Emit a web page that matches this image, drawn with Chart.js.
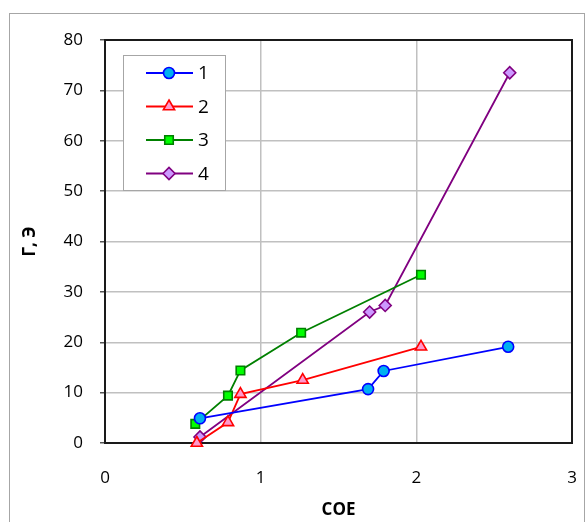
<!DOCTYPE html>
<html>
<head>
<meta charset="utf-8">
<script src="https://cdn.jsdelivr.net/npm/chart.js@4/dist/chart.umd.min.js"></script>
<style>
  html, body { margin: 0; padding: 0; background: #fff; }
  #wrap { width: 586px; height: 522px; }
</style>
</head>
<body>
<div id="wrap"><canvas id="c" width="586" height="522"></canvas></div>
<script>
// значения (COE -> Г, Э)
var labels = ['1', '2', '3', '4'];
var x1 = [0.61, 1.69, 1.79, 2.59];
var y1 = [4.9, 10.7, 14.3, 19.1];
var x2 = [0.59, 0.79, 0.87, 1.27, 2.03];
var y2 = [0.0, 4.1, 9.7, 12.5, 19.1];
var x3 = [0.58, 0.79, 0.87, 1.26, 2.03];
var y3 = [3.8, 9.4, 14.4, 21.9, 33.4];
var x4 = [0.61, 1.70, 1.80, 2.60];
var y4 = [1.2, 26.0, 27.3, 73.5];
var xTicks = [0, 1, 2, 3];
var yTicks = [0, 10, 20, 30, 40, 50, 60, 70, 80];

var FONT = '"Open Sans", "DejaVu Sans", sans-serif';

function pts(xs, ys) {
  return xs.map(function(x, i) { return {x: x, y: ys[i]}; });
}

function ds(label, xs, ys, line, fill, style, r) {
  return {
    label: label,
    data: pts(xs, ys),
    showLine: true,
    borderColor: line,
    borderWidth: 1.8,
    pointStyle: style,
    pointRadius: r,
    pointBackgroundColor: fill,
    pointBorderColor: line,
    pointBorderWidth: 1.6,
    clip: false
  };
}

// рамка вокруг, рамка области построения, легенда внутри
var framePlugin = {
  id: 'frame',
  beforeDraw: function(chart) {
    var c = chart.ctx;
    c.save();
    c.fillStyle = '#fff';
    c.fillRect(0, 0, chart.width, chart.height);
    c.strokeStyle = '#a6a6a6';
    c.lineWidth = 1;
    c.strokeRect(9.5, 13.5, 575, 530);
    c.restore();
  },
  beforeDatasetsDraw: function(chart) {
    var a = chart.chartArea, c = chart.ctx;
    c.save();
    c.strokeStyle = '#1a1a1a';
    c.lineWidth = 2;
    c.strokeRect(a.left, a.top, a.right - a.left, a.bottom - a.top);
    c.restore();
  },
  afterDraw: function(chart) {
    var a = chart.chartArea, c = chart.ctx;
    var bx = a.left + 18, by = a.top + 15, bw = 102, bh = 135;
    c.save();
    c.fillStyle = '#fff';
    c.fillRect(bx, by, bw, bh);
    c.strokeStyle = '#a6a6a6';
    c.lineWidth = 1;
    c.strokeRect(bx + 0.5, by + 0.5, bw, bh);
    chart.data.datasets.forEach(function(d, i) {
      var yy = by + 18 + i * 33.5;
      c.strokeStyle = d.borderColor;
      c.lineWidth = d.borderWidth;
      c.beginPath();
      c.moveTo(bx + 23, yy);
      c.lineTo(bx + 70, yy);
      c.stroke();
      c.fillStyle = d.pointBackgroundColor;
      c.strokeStyle = d.borderColor;
      c.lineWidth = d.pointBorderWidth;
      Chart.helpers.drawPoint(c, {
        pointStyle: d.pointStyle,
        radius: d.pointRadius,
        borderWidth: d.pointBorderWidth
      }, bx + 46, yy);
      c.fillStyle = '#000';
      c.font = '19px ' + FONT;
      c.textBaseline = 'middle';
      c.textAlign = 'left';
      c.fillText(d.label, bx + 75, yy + 1);
    });
    c.restore();
  }
};

new Chart(document.getElementById('c'), {
  type: 'scatter',
  data: {
    datasets: [
      ds(labels[0], x1, y1, '#0000ff', '#00b0f0', 'circle', 5.5),
      ds(labels[1], x2, y2, '#ff0000', '#ff99cc', 'triangle', 6.5),
      ds(labels[2], x3, y3, '#008000', '#00ff00', 'rect', 6),
      ds(labels[3], x4, y4, '#800080', '#cc99ff', 'rectRot', 6)
    ]
  },
  options: {
    responsive: false,
    animation: false,
    layout: {padding: {left: 0, right: 0, top: 40, bottom: 0}},
    plugins: {legend: {display: false}, tooltip: {enabled: false}},
    scales: {
      x: {
        type: 'linear',
        min: 0, max: 3,
        afterBuildTicks: function(s) { s.ticks = xTicks.map(function(v) { return {value: v}; }); },
        afterFit: function(s) { s.height = 79; s.paddingRight = 14; },
        ticks: {color: '#000', font: {family: FONT, size: 17}, padding: 25},
        grid: {
          color: function(ctx) { return (ctx.tick && (ctx.tick.value === 0 || ctx.tick.value === 3)) ? 'rgba(0,0,0,0)' : '#c0c0c0'; },
          lineWidth: 1.5,
          drawTicks: false
        },
        border: {display: false},
        title: {display: true, text: 'COE', color: '#000', font: {family: FONT, size: 17, weight: 'bold'}, padding: {top: 0, bottom: 2}}
      },
      y: {
        type: 'linear',
        min: 0, max: 80,
        afterBuildTicks: function(s) { s.ticks = yTicks.map(function(v) { return {value: v}; }); },
        afterFit: function(s) { s.width = 105; },
        ticks: {color: '#000', font: {family: FONT, size: 17}, padding: 17},
        grid: {
          color: function(ctx) { return (ctx.tick && (ctx.tick.value === 0 || ctx.tick.value === 80)) ? 'rgba(0,0,0,0)' : '#c0c0c0'; },
          lineWidth: 1.5,
          tickColor: '#555',
          tickLength: 5
        },
        border: {display: false},
        title: {display: true, text: 'Г, Э', color: '#000', font: {family: FONT, size: 17, weight: 'bold'}, padding: {top: 20, bottom: 0}}
      }
    }
  },
  plugins: [framePlugin]
});
</script>
</body>
</html>
